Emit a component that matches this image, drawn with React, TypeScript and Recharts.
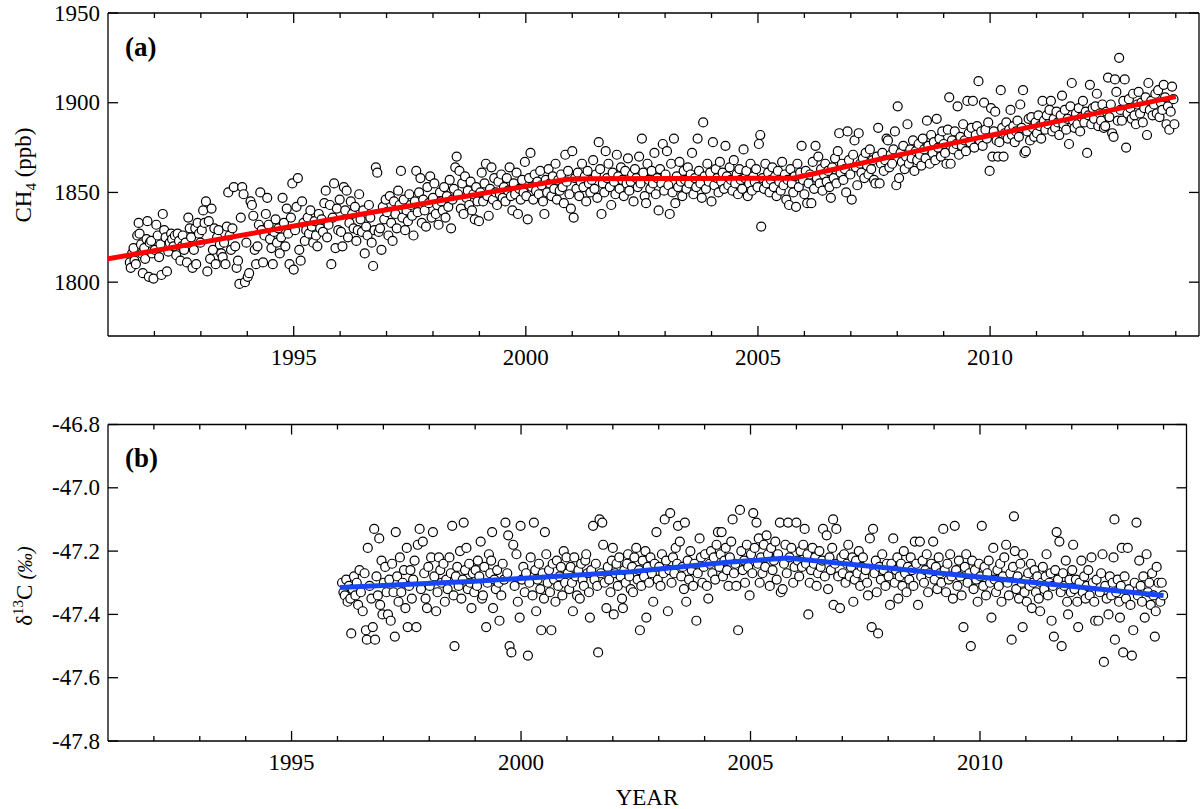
import React from "react";
import { ComposedChart, Scatter, Line, XAxis, YAxis } from "recharts";

const FONT = "'Liberation Serif', 'Times New Roman', Times, serif";

// ---------- tick labels / axis settings ----------
const yearTicks = [1992, 1993, 1994, 1995, 1996, 1997, 1998, 1999, 2000, 2001, 2002, 2003, 2004, 2005, 2006, 2007, 2008, 2009, 2010, 2011, 2012, 2013, 2014];
const ch4Ticks = [1800, 1850, 1900, 1950];
const d13Ticks = [-47.8, -47.6, -47.4, -47.2, -47.0, -46.8];

// ---------- panel (a): CH4 observations [year, ppb] ----------
const ch4Obs: [number, number][] = [
  [1991.47,1811],[1991.49,1808],[1991.52,1816],[1991.55,1819],[1991.57,1812],[1991.60,1810],[1991.63,1826],[1991.66,1833],[1991.68,1827],[1991.71,1821],[1991.73,1816],[1991.75,1805],[1991.78,1819],[1991.80,1813],[1991.83,1824],[1991.85,1834],[1991.88,1803],[1991.90,1822],[1991.93,1823],[1991.95,1816],[1991.98,1802],
  [1992.01,1818],[1992.04,1832],[1992.07,1826],[1992.10,1814],[1992.13,1821],[1992.15,1804],[1992.18,1838],[1992.21,1829],[1992.24,1825],[1992.27,1806],[1992.30,1817],[1992.33,1822],[1992.36,1827],[1992.38,1824],[1992.41,1820],[1992.44,1826],[1992.47,1815],[1992.50,1827],[1992.53,1823],[1992.56,1812],[1992.59,1820],[1992.61,1826],[1992.64,1818],[1992.67,1822],[1992.70,1811],[1992.73,1836],[1992.76,1830],[1992.79,1825],[1992.82,1808],[1992.85,1818],[1992.88,1830],[1992.90,1810],[1992.93,1833],[1992.96,1827],[1992.99,1822],
  [1993.02,1829],[1993.05,1840],[1993.08,1833],[1993.11,1845],[1993.14,1806],[1993.17,1834],[1993.20,1813],[1993.23,1841],[1993.26,1818],[1993.29,1830],[1993.32,1810],[1993.35,1825],[1993.38,1829],[1993.41,1821],[1993.44,1816],[1993.47,1814],[1993.50,1822],[1993.53,1810],[1993.56,1831],[1993.59,1850],[1993.62,1826],[1993.65,1818],[1993.68,1830],[1993.71,1853],[1993.74,1820],[1993.77,1808],[1993.80,1812],[1993.83,1799],[1993.86,1836],[1993.89,1853],[1993.92,1849],[1993.95,1800],[1993.98,1822],
  [1994.01,1803],[1994.04,1805],[1994.07,1845],[1994.10,1843],[1994.13,1837],[1994.16,1818],[1994.19,1810],[1994.22,1820],[1994.25,1832],[1994.28,1850],[1994.31,1829],[1994.34,1811],[1994.37,1826],[1994.40,1838],[1994.43,1847],[1994.46,1832],[1994.49,1824],[1994.52,1819],[1994.55,1810],[1994.58,1828],[1994.61,1835],[1994.64,1822],[1994.67,1830],[1994.70,1816],[1994.73,1825],[1994.76,1847],[1994.79,1833],[1994.82,1820],[1994.85,1841],[1994.88,1827],[1994.91,1810],[1994.94,1836],[1994.97,1855],
  [1995.00,1807],[1995.03,1829],[1995.06,1842],[1995.09,1858],[1995.12,1818],[1995.15,1812],[1995.18,1845],[1995.21,1833],[1995.24,1823],[1995.27,1829],[1995.30,1836],[1995.33,1827],[1995.36,1840],[1995.39,1831],[1995.42,1822],[1995.45,1834],[1995.48,1826],[1995.51,1820],[1995.54,1838],[1995.57,1830],[1995.60,1835],[1995.63,1828],[1995.66,1844],[1995.69,1851],[1995.72,1825],[1995.75,1832],[1995.78,1843],[1995.81,1810],[1995.84,1836],[1995.87,1855],[1995.90,1819],[1995.93,1841],[1995.96,1829],
  [1995.99,1846],[1996.02,1828],[1996.05,1820],[1996.08,1853],[1996.11,1840],[1996.14,1851],[1996.17,1825],[1996.20,1833],[1996.23,1845],[1996.26,1838],[1996.29,1830],[1996.32,1842],[1996.35,1823],[1996.38,1829],[1996.41,1849],[1996.44,1835],[1996.47,1828],[1996.50,1840],[1996.53,1816],[1996.56,1831],[1996.59,1826],[1996.62,1843],[1996.65,1836],[1996.68,1822],[1996.71,1809],[1996.74,1829],[1996.77,1864],[1996.80,1861],[1996.83,1828],[1996.86,1830],[1996.89,1818],[1996.92,1842],[1996.95,1835],[1996.98,1846],
  [1997.01,1839],[1997.04,1826],[1997.07,1848],[1997.10,1833],[1997.13,1823],[1997.16,1845],[1997.19,1838],[1997.22,1830],[1997.25,1851],[1997.28,1843],[1997.31,1862],[1997.34,1836],[1997.37,1846],[1997.40,1829],[1997.43,1840],[1997.46,1834],[1997.49,1849],[1997.52,1843],[1997.55,1837],[1997.58,1826],[1997.61,1845],[1997.64,1862],[1997.67,1839],[1997.70,1850],[1997.73,1858],[1997.76,1833],[1997.79,1846],[1997.82,1840],[1997.85,1831],[1997.88,1853],[1997.91,1844],[1997.94,1859],[1997.97,1836],
  [1998.00,1847],[1998.03,1855],[1998.06,1838],[1998.09,1843],[1998.12,1832],[1998.15,1850],[1998.18,1845],[1998.21,1840],[1998.24,1853],[1998.27,1836],[1998.30,1848],[1998.33,1842],[1998.36,1857],[1998.39,1830],[1998.42,1846],[1998.45,1852],[1998.48,1864],[1998.51,1870],[1998.54,1849],[1998.57,1862],[1998.60,1841],[1998.63,1855],[1998.66,1838],[1998.69,1859],[1998.72,1847],[1998.75,1851],[1998.78,1843],[1998.81,1856],[1998.84,1840],[1998.87,1849],[1998.90,1835],[1998.93,1853],[1998.96,1845],
  [1998.99,1834],[1999.02,1850],[1999.05,1861],[1999.08,1845],[1999.11,1855],[1999.14,1866],[1999.17,1848],[1999.20,1837],[1999.23,1852],[1999.26,1864],[1999.29,1846],[1999.32,1858],[1999.35,1850],[1999.38,1843],[1999.41,1856],[1999.44,1849],[1999.47,1860],[1999.50,1847],[1999.53,1853],[1999.56,1845],[1999.59,1858],[1999.62,1851],[1999.65,1864],[1999.68,1848],[1999.71,1840],[1999.74,1855],[1999.77,1849],[1999.80,1861],[1999.83,1838],[1999.86,1852],[1999.89,1846],[1999.92,1857],[1999.95,1850],
  [1999.98,1867],[2000.01,1848],[2000.04,1835],[2000.07,1858],[2000.10,1872],[2000.13,1853],[2000.16,1846],[2000.19,1860],[2000.22,1851],[2000.25,1856],[2000.28,1849],[2000.31,1862],[2000.34,1854],[2000.37,1845],[2000.40,1838],[2000.43,1857],[2000.46,1850],[2000.49,1863],[2000.52,1855],[2000.55,1848],[2000.58,1859],[2000.61,1852],[2000.64,1866],[2000.67,1846],[2000.70,1857],[2000.73,1851],[2000.76,1860],[2000.79,1853],[2000.82,1844],[2000.85,1871],[2000.88,1856],[2000.91,1862],[2000.94,1849],[2000.97,1841],
  [2001.00,1873],[2001.03,1836],[2001.06,1858],[2001.09,1852],[2001.12,1861],[2001.15,1848],[2001.18,1856],[2001.21,1866],[2001.24,1853],[2001.27,1859],[2001.30,1845],[2001.33,1862],[2001.36,1855],[2001.39,1850],[2001.42,1857],[2001.45,1868],[2001.48,1852],[2001.51,1860],[2001.54,1847],[2001.57,1878],[2001.60,1863],[2001.63,1838],[2001.66,1855],[2001.69,1850],[2001.72,1873],[2001.75,1858],[2001.78,1866],[2001.81,1853],[2001.84,1843],[2001.87,1861],[2001.90,1856],[2001.93,1849],[2001.96,1871],
  [2001.99,1859],[2002.02,1852],[2002.05,1864],[2002.08,1857],[2002.11,1848],[2002.14,1862],[2002.17,1855],[2002.20,1869],[2002.23,1851],[2002.26,1856],[2002.29,1860],[2002.32,1845],[2002.35,1863],[2002.38,1858],[2002.41,1853],[2002.44,1870],[2002.47,1855],[2002.50,1880],[2002.53,1861],[2002.56,1848],[2002.59,1844],[2002.62,1866],[2002.65,1857],[2002.68,1852],[2002.71,1862],[2002.74,1855],[2002.77,1872],[2002.80,1849],[2002.83,1858],[2002.86,1840],[2002.89,1863],[2002.92,1855],[2002.95,1877],[2002.98,1851],
  [2003.01,1860],[2003.04,1873],[2003.07,1854],[2003.10,1838],[2003.13,1866],[2003.16,1850],[2003.19,1880],[2003.22,1844],[2003.25,1859],[2003.28,1853],[2003.31,1867],[2003.34,1856],[2003.37,1848],[2003.40,1862],[2003.43,1857],[2003.46,1852],[2003.49,1864],[2003.52,1855],[2003.55,1860],[2003.58,1872],[2003.61,1849],[2003.64,1858],[2003.67,1853],[2003.70,1880],[2003.73,1862],[2003.76,1855],[2003.79,1847],[2003.82,1889],[2003.85,1859],[2003.88,1852],[2003.91,1866],[2003.94,1856],[2003.97,1861],
  [2004.00,1845],[2004.03,1878],[2004.06,1854],[2004.09,1863],[2004.12,1858],[2004.15,1850],[2004.18,1867],[2004.21,1856],[2004.24,1861],[2004.27,1852],[2004.30,1876],[2004.33,1859],[2004.36,1854],[2004.39,1864],[2004.42,1857],[2004.45,1851],[2004.48,1868],[2004.51,1855],[2004.54,1860],[2004.57,1849],[2004.60,1863],[2004.63,1857],[2004.66,1852],[2004.69,1874],[2004.72,1858],[2004.75,1862],[2004.78,1848],[2004.81,1855],[2004.84,1866],[2004.87,1851],[2004.90,1859],[2004.93,1856],[2004.96,1863],
  [2004.99,1853],[2005.02,1877],[2005.05,1882],[2005.07,1831],[2005.10,1858],[2005.13,1852],[2005.16,1866],[2005.19,1855],[2005.22,1861],[2005.25,1850],[2005.28,1857],[2005.31,1864],[2005.34,1853],[2005.37,1859],[2005.40,1848],[2005.43,1862],[2005.46,1856],[2005.49,1851],[2005.52,1867],[2005.55,1854],[2005.58,1860],[2005.61,1846],[2005.64,1857],[2005.67,1843],[2005.70,1863],[2005.73,1855],[2005.76,1850],[2005.79,1859],[2005.82,1842],[2005.85,1866],[2005.88,1853],[2005.91,1861],[2005.94,1876],[2005.97,1857],
  [2006.00,1849],[2006.03,1862],[2006.06,1844],[2006.09,1855],[2006.12,1860],[2006.15,1844],[2006.18,1867],[2006.21,1852],[2006.24,1876],[2006.27,1858],[2006.30,1870],[2006.33,1855],[2006.36,1863],[2006.39,1851],[2006.42,1860],[2006.45,1866],[2006.48,1856],[2006.51,1862],[2006.54,1853],[2006.57,1847],[2006.60,1864],[2006.63,1858],[2006.66,1869],[2006.69,1855],[2006.72,1873],[2006.75,1883],[2006.78,1861],[2006.81,1866],[2006.84,1857],[2006.87,1863],[2006.90,1850],[2006.93,1884],[2006.96,1868],
  [2006.99,1860],[2007.02,1846],[2007.05,1871],[2007.08,1879],[2007.11,1864],[2007.14,1854],[2007.17,1883],[2007.20,1866],[2007.23,1861],[2007.26,1869],[2007.29,1858],[2007.32,1872],[2007.35,1865],[2007.38,1860],[2007.41,1874],[2007.44,1863],[2007.47,1868],[2007.50,1857],[2007.53,1855],[2007.56,1870],[2007.59,1886],[2007.62,1855],[2007.65,1866],[2007.68,1872],[2007.71,1862],[2007.74,1868],[2007.77,1880],[2007.80,1879],[2007.83,1864],[2007.86,1871],[2007.89,1866],[2007.92,1874],[2007.95,1884],[2007.98,1854],
  [2008.01,1898],[2008.04,1858],[2008.07,1872],[2008.10,1867],[2008.13,1876],[2008.16,1863],[2008.19,1870],[2008.22,1888],[2008.25,1866],[2008.28,1874],[2008.31,1869],[2008.34,1879],[2008.37,1862],[2008.40,1873],[2008.43,1868],[2008.46,1877],[2008.49,1871],[2008.52,1865],[2008.55,1880],[2008.58,1874],[2008.61,1869],[2008.64,1890],[2008.67,1876],[2008.70,1866],[2008.73,1882],[2008.76,1872],[2008.79,1878],[2008.82,1868],[2008.85,1891],[2008.88,1875],[2008.91,1880],[2008.94,1870],[2008.97,1884],
  [2009.00,1877],[2009.03,1872],[2009.06,1866],[2009.09,1885],[2009.12,1903],[2009.15,1866],[2009.18,1879],[2009.21,1874],[2009.24,1884],[2009.27,1877],[2009.30,1898],[2009.33,1871],[2009.36,1881],[2009.39,1876],[2009.42,1888],[2009.45,1879],[2009.48,1873],[2009.51,1901],[2009.54,1883],[2009.57,1878],[2009.60,1886],[2009.63,1901],[2009.66,1875],[2009.69,1882],[2009.72,1887],[2009.75,1912],[2009.78,1879],[2009.81,1884],[2009.84,1876],[2009.87,1900],[2009.90,1885],[2009.93,1880],[2009.96,1889],
  [2009.99,1862],[2010.02,1897],[2010.05,1870],[2010.08,1884],[2010.11,1895],[2010.14,1879],[2010.17,1870],[2010.20,1878],[2010.23,1907],[2010.26,1886],[2010.29,1870],[2010.32,1883],[2010.35,1889],[2010.38,1880],[2010.41,1885],[2010.44,1896],[2010.47,1882],[2010.50,1887],[2010.53,1878],[2010.56,1884],[2010.59,1890],[2010.62,1881],[2010.65,1899],[2010.68,1886],[2010.71,1907],[2010.74,1872],[2010.77,1873],[2010.80,1884],[2010.83,1891],[2010.86,1879],[2010.89,1892],[2010.92,1886],[2010.95,1881],
  [2010.98,1889],[2011.01,1883],[2011.04,1893],[2011.07,1887],[2011.10,1880],[2011.13,1901],[2011.16,1890],[2011.19,1885],[2011.22,1893],[2011.25,1888],[2011.28,1896],[2011.31,1901],[2011.34,1884],[2011.37,1891],[2011.40,1886],[2011.43,1895],[2011.46,1889],[2011.49,1882],[2011.52,1893],[2011.55,1904],[2011.58,1888],[2011.61,1896],[2011.64,1885],[2011.67,1891],[2011.70,1877],[2011.73,1898],[2011.76,1911],[2011.79,1890],[2011.82,1886],[2011.85,1894],[2011.88,1888],[2011.91,1897],[2011.94,1884],[2011.97,1892],
  [2012.00,1901],[2012.03,1889],[2012.06,1895],[2012.09,1872],[2012.12,1893],[2012.15,1910],[2012.18,1888],[2012.21,1897],[2012.24,1891],[2012.27,1898],[2012.30,1905],[2012.33,1887],[2012.36,1894],[2012.39,1890],[2012.42,1899],[2012.45,1886],[2012.48,1887],[2012.51,1895],[2012.54,1914],[2012.57,1892],[2012.60,1899],[2012.63,1883],[2012.66,1881],[2012.69,1913],[2012.72,1906],[2012.75,1890],[2012.78,1925],[2012.81,1896],[2012.84,1890],[2012.87,1901],[2012.90,1913],[2012.93,1875],[2012.96,1894],
  [2012.99,1902],[2013.02,1897],[2013.05,1891],[2013.08,1905],[2013.11,1893],[2013.14,1888],[2013.17,1899],[2013.20,1906],[2013.23,1894],[2013.26,1900],[2013.29,1889],[2013.32,1897],[2013.35,1903],[2013.38,1882],[2013.41,1911],[2013.44,1896],[2013.47,1901],[2013.50,1893],[2013.53,1899],[2013.56,1905],[2013.59,1894],[2013.62,1907],[2013.65,1892],[2013.68,1900],[2013.71,1896],[2013.74,1910],[2013.77,1903],[2013.80,1888],[2013.83,1898],[2013.86,1885],[2013.89,1895],[2013.92,1909],[2013.95,1902],[2013.97,1888],
];

// ---------- panel (a): CH4 fitted trend [year, ppb] ----------
const ch4Fit: [number, number][] = [
  [1991.0,1813.0],[1996.85,1839.7],[2000.5,1855.7],[2000.9,1857.3],[2001.4,1857.6],[2005.75,1857.9],[2006.2,1860.4],[2008.9,1875.8],[2014.0,1903.4],
];

// ---------- panel (b): d13C observations [year, permil] ----------
const d13Obs: [number, number][] = [
  [1996.10,-47.30],[1996.13,-47.33],[1996.16,-47.34],[1996.19,-47.29],[1996.22,-47.36],[1996.25,-47.31],[1996.28,-47.35],[1996.30,-47.46],[1996.33,-47.32],[1996.36,-47.28],[1996.39,-47.34],[1996.42,-47.30],[1996.45,-47.37],[1996.48,-47.26],[1996.51,-47.33],[1996.55,-47.39],[1996.59,-47.27],[1996.62,-47.45],[1996.64,-47.48],[1996.66,-47.19],[1996.70,-47.31],[1996.74,-47.35],[1996.77,-47.44],[1996.80,-47.13],[1996.82,-47.48],[1996.85,-47.28],[1996.88,-47.34],[1996.91,-47.16],[1996.93,-47.37],[1996.96,-47.23],[1996.98,-47.40],
  [1997.01,-47.30],[1997.04,-47.25],[1997.07,-47.33],[1997.10,-47.40],[1997.13,-47.29],[1997.16,-47.42],[1997.19,-47.24],[1997.22,-47.33],[1997.25,-47.47],[1997.27,-47.14],[1997.30,-47.28],[1997.33,-47.36],[1997.36,-47.22],[1997.39,-47.33],[1997.42,-47.30],[1997.45,-47.26],[1997.48,-47.38],[1997.51,-47.19],[1997.53,-47.44],[1997.56,-47.31],[1997.59,-47.26],[1997.62,-47.35],[1997.65,-47.29],[1997.68,-47.23],[1997.72,-47.44],[1997.75,-47.18],[1997.79,-47.13],[1997.82,-47.32],[1997.86,-47.17],[1997.89,-47.27],[1997.92,-47.35],[1997.95,-47.38],[1997.98,-47.25],
  [1998.01,-47.31],[1998.04,-47.22],[1998.08,-47.14],[1998.11,-47.28],[1998.15,-47.39],[1998.18,-47.33],[1998.21,-47.22],[1998.24,-47.26],[1998.27,-47.30],[1998.31,-47.24],[1998.34,-47.36],[1998.37,-47.29],[1998.40,-47.32],[1998.44,-47.22],[1998.47,-47.27],[1998.50,-47.12],[1998.53,-47.34],[1998.55,-47.50],[1998.58,-47.28],[1998.61,-47.25],[1998.64,-47.31],[1998.67,-47.20],[1998.70,-47.35],[1998.73,-47.29],[1998.75,-47.11],[1998.78,-47.26],[1998.81,-47.19],[1998.84,-47.32],[1998.87,-47.24],[1998.89,-47.30],[1998.92,-47.38],[1998.95,-47.27],[1998.98,-47.33],
  [1999.01,-47.26],[1999.04,-47.31],[1999.06,-47.23],[1999.09,-47.28],[1999.12,-47.17],[1999.15,-47.35],[1999.17,-47.34],[1999.20,-47.25],[1999.24,-47.44],[1999.27,-47.30],[1999.30,-47.21],[1999.33,-47.27],[1999.35,-47.23],[1999.37,-47.14],[1999.39,-47.38],[1999.42,-47.29],[1999.45,-47.32],[1999.48,-47.26],[1999.51,-47.30],[1999.53,-47.42],[1999.57,-47.34],[1999.60,-47.24],[1999.63,-47.29],[1999.66,-47.11],[1999.70,-47.27],[1999.72,-47.15],[1999.75,-47.50],[1999.79,-47.52],[1999.83,-47.18],[1999.86,-47.31],[1999.90,-47.21],[1999.93,-47.36],[1999.97,-47.41],[1999.99,-47.12],
  [2000.02,-47.29],[2000.05,-47.25],[2000.08,-47.33],[2000.11,-47.27],[2000.15,-47.53],[2000.18,-47.30],[2000.21,-47.22],[2000.25,-47.34],[2000.28,-47.11],[2000.31,-47.26],[2000.33,-47.39],[2000.36,-47.29],[2000.39,-47.24],[2000.42,-47.32],[2000.44,-47.45],[2000.47,-47.27],[2000.50,-47.35],[2000.52,-47.14],[2000.55,-47.21],[2000.58,-47.30],[2000.61,-47.26],[2000.63,-47.33],[2000.66,-47.45],[2000.69,-47.24],[2000.72,-47.29],[2000.75,-47.36],[2000.78,-47.23],[2000.81,-47.31],[2000.84,-47.28],[2000.87,-47.25],[2000.90,-47.34],[2000.93,-47.20],[2000.96,-47.30],[2000.99,-47.22],
  [2001.02,-47.27],[2001.05,-47.32],[2001.08,-47.25],[2001.11,-47.30],[2001.13,-47.39],[2001.16,-47.22],[2001.19,-47.28],[2001.22,-47.34],[2001.25,-47.26],[2001.28,-47.35],[2001.31,-47.24],[2001.34,-47.29],[2001.37,-47.31],[2001.40,-47.23],[2001.42,-47.21],[2001.45,-47.27],[2001.48,-47.33],[2001.50,-47.41],[2001.53,-47.26],[2001.57,-47.12],[2001.60,-47.29],[2001.63,-47.24],[2001.66,-47.31],[2001.68,-47.52],[2001.71,-47.10],[2001.74,-47.27],[2001.77,-47.11],[2001.79,-47.18],[2001.82,-47.30],[2001.86,-47.38],[2001.89,-47.25],[2001.92,-47.29],[2001.95,-47.33],[2001.98,-47.23],
  [2002.00,-47.19],[2002.02,-47.40],[2002.05,-47.27],[2002.08,-47.24],[2002.11,-47.31],[2002.14,-47.22],[2002.17,-47.28],[2002.20,-47.35],[2002.22,-47.38],[2002.25,-47.26],[2002.28,-47.30],[2002.31,-47.24],[2002.33,-47.21],[2002.36,-47.28],[2002.39,-47.32],[2002.42,-47.25],[2002.44,-47.33],[2002.47,-47.22],[2002.51,-47.19],[2002.54,-47.29],[2002.57,-47.26],[2002.59,-47.45],[2002.62,-47.31],[2002.65,-47.23],[2002.68,-47.28],[2002.71,-47.20],[2002.73,-47.41],[2002.76,-47.25],[2002.79,-47.30],[2002.82,-47.22],[2002.85,-47.27],[2002.88,-47.36],[2002.91,-47.24],[2002.95,-47.14],[2002.98,-47.29],
  [2003.01,-47.25],[2003.04,-47.31],[2003.07,-47.21],[2003.10,-47.27],[2003.13,-47.10],[2003.16,-47.23],[2003.20,-47.39],[2003.23,-47.26],[2003.25,-47.08],[2003.28,-47.30],[2003.31,-47.22],[2003.34,-47.27],[2003.37,-47.19],[2003.40,-47.24],[2003.42,-47.12],[2003.46,-47.17],[2003.49,-47.28],[2003.52,-47.25],[2003.55,-47.32],[2003.57,-47.11],[2003.60,-47.36],[2003.63,-47.23],[2003.66,-47.29],[2003.69,-47.20],[2003.72,-47.26],[2003.75,-47.31],[2003.78,-47.24],[2003.82,-47.42],[2003.85,-47.27],[2003.89,-47.16],[2003.92,-47.22],[2003.95,-47.30],[2003.98,-47.25],
  [2004.01,-47.21],[2004.05,-47.31],[2004.08,-47.35],[2004.11,-47.24],[2004.14,-47.20],[2004.17,-47.27],[2004.20,-47.22],[2004.23,-47.29],[2004.26,-47.18],[2004.29,-47.14],[2004.32,-47.25],[2004.35,-47.21],[2004.37,-47.14],[2004.40,-47.28],[2004.43,-47.23],[2004.46,-47.19],[2004.49,-47.26],[2004.52,-47.31],[2004.55,-47.22],[2004.58,-47.17],[2004.61,-47.10],[2004.64,-47.27],[2004.67,-47.24],[2004.69,-47.31],[2004.73,-47.45],[2004.77,-47.07],[2004.80,-47.20],[2004.83,-47.26],[2004.86,-47.23],[2004.88,-47.30],[2004.92,-47.18],[2004.95,-47.25],[2004.98,-47.34],
  [2005.01,-47.21],[2005.04,-47.27],[2005.06,-47.08],[2005.09,-47.19],[2005.13,-47.11],[2005.16,-47.24],[2005.18,-47.16],[2005.20,-47.30],[2005.23,-47.22],[2005.26,-47.27],[2005.29,-47.18],[2005.32,-47.25],[2005.35,-47.15],[2005.38,-47.21],[2005.42,-47.31],[2005.45,-47.19],[2005.48,-47.26],[2005.51,-47.23],[2005.54,-47.17],[2005.57,-47.29],[2005.60,-47.21],[2005.64,-47.11],[2005.66,-47.33],[2005.70,-47.32],[2005.73,-47.24],[2005.76,-47.18],[2005.79,-47.27],[2005.82,-47.11],[2005.85,-47.22],[2005.89,-47.19],[2005.93,-47.30],[2005.96,-47.25],
  [2006.00,-47.11],[2006.03,-47.23],[2006.06,-47.28],[2006.09,-47.20],[2006.12,-47.25],[2006.15,-47.18],[2006.18,-47.13],[2006.21,-47.24],[2006.24,-47.21],[2006.26,-47.40],[2006.29,-47.30],[2006.32,-47.26],[2006.35,-47.19],[2006.38,-47.24],[2006.41,-47.22],[2006.44,-47.31],[2006.47,-47.27],[2006.50,-47.20],[2006.53,-47.25],[2006.56,-47.23],[2006.58,-47.13],[2006.62,-47.28],[2006.66,-47.15],[2006.69,-47.32],[2006.72,-47.22],[2006.75,-47.26],[2006.78,-47.19],[2006.80,-47.10],[2006.81,-47.37],[2006.84,-47.24],[2006.87,-47.13],[2006.91,-47.28],[2006.95,-47.38],[2006.98,-47.22],
  [2007.01,-47.27],[2007.04,-47.21],[2007.07,-47.30],[2007.10,-47.24],[2007.13,-47.18],[2007.16,-47.28],[2007.19,-47.25],[2007.22,-47.22],[2007.24,-47.36],[2007.27,-47.29],[2007.30,-47.23],[2007.33,-47.27],[2007.36,-47.20],[2007.39,-47.31],[2007.42,-47.25],[2007.45,-47.22],[2007.48,-47.28],[2007.51,-47.26],[2007.54,-47.30],[2007.56,-47.34],[2007.60,-47.16],[2007.64,-47.44],[2007.67,-47.13],[2007.70,-47.27],[2007.73,-47.23],[2007.75,-47.33],[2007.78,-47.46],[2007.81,-47.25],[2007.84,-47.29],[2007.87,-47.21],[2007.90,-47.26],[2007.94,-47.31],[2007.97,-47.24],
  [2008.01,-47.28],[2008.04,-47.37],[2008.07,-47.24],[2008.11,-47.16],[2008.14,-47.30],[2008.17,-47.26],[2008.20,-47.22],[2008.22,-47.35],[2008.25,-47.28],[2008.28,-47.24],[2008.31,-47.31],[2008.34,-47.20],[2008.37,-47.27],[2008.40,-47.33],[2008.43,-47.25],[2008.46,-47.29],[2008.49,-47.22],[2008.52,-47.26],[2008.55,-47.31],[2008.58,-47.17],[2008.61,-47.24],[2008.65,-47.37],[2008.69,-47.17],[2008.72,-47.28],[2008.75,-47.23],[2008.78,-47.30],[2008.81,-47.26],[2008.84,-47.21],[2008.87,-47.33],[2008.90,-47.27],[2008.94,-47.24],[2008.98,-47.17],
  [2009.01,-47.29],[2009.04,-47.25],[2009.07,-47.32],[2009.10,-47.22],[2009.13,-47.27],[2009.16,-47.30],[2009.20,-47.13],[2009.23,-47.26],[2009.26,-47.33],[2009.29,-47.24],[2009.32,-47.29],[2009.35,-47.21],[2009.38,-47.28],[2009.41,-47.35],[2009.45,-47.12],[2009.48,-47.26],[2009.51,-47.31],[2009.54,-47.23],[2009.57,-47.28],[2009.60,-47.34],[2009.64,-47.44],[2009.67,-47.25],[2009.70,-47.21],[2009.73,-47.30],[2009.77,-47.27],[2009.80,-47.50],[2009.83,-47.23],[2009.86,-47.32],[2009.89,-47.26],[2009.92,-47.29],[2009.95,-47.36],[2009.98,-47.24],
  [2010.01,-47.28],[2010.04,-47.12],[2010.07,-47.31],[2010.10,-47.25],[2010.13,-47.34],[2010.16,-47.27],[2010.19,-47.23],[2010.22,-47.30],[2010.25,-47.41],[2010.29,-47.19],[2010.32,-47.29],[2010.35,-47.33],[2010.38,-47.26],[2010.41,-47.31],[2010.44,-47.24],[2010.47,-47.36],[2010.50,-47.28],[2010.53,-47.22],[2010.57,-47.18],[2010.60,-47.30],[2010.63,-47.34],[2010.66,-47.27],[2010.69,-47.48],[2010.72,-47.25],[2010.74,-47.09],[2010.76,-47.20],[2010.79,-47.32],[2010.82,-47.28],[2010.85,-47.35],[2010.88,-47.24],[2010.91,-47.30],[2010.93,-47.44],[2010.94,-47.21],[2010.97,-47.33],
  [2011.00,-47.29],[2011.02,-47.36],[2011.05,-47.27],[2011.08,-47.31],[2011.11,-47.24],[2011.13,-47.38],[2011.16,-47.30],[2011.19,-47.26],[2011.22,-47.33],[2011.25,-47.28],[2011.28,-47.35],[2011.31,-47.39],[2011.34,-47.30],[2011.37,-47.25],[2011.40,-47.32],[2011.43,-47.28],[2011.45,-47.21],[2011.48,-47.34],[2011.51,-47.30],[2011.54,-47.27],[2011.56,-47.42],[2011.59,-47.31],[2011.61,-47.47],[2011.64,-47.26],[2011.67,-47.14],[2011.70,-47.29],[2011.73,-47.17],[2011.76,-47.33],[2011.78,-47.50],[2011.81,-47.27],[2011.84,-47.31],[2011.87,-47.23],[2011.90,-47.36],[2011.92,-47.40],[2011.95,-47.29],[2011.98,-47.33],
  [2012.01,-47.26],[2012.03,-47.18],[2012.06,-47.32],[2012.09,-47.29],[2012.12,-47.36],[2012.14,-47.44],[2012.17,-47.30],[2012.21,-47.23],[2012.24,-47.33],[2012.27,-47.28],[2012.30,-47.35],[2012.33,-47.31],[2012.36,-47.26],[2012.39,-47.34],[2012.43,-47.22],[2012.46,-47.30],[2012.49,-47.36],[2012.51,-47.42],[2012.54,-47.29],[2012.58,-47.42],[2012.61,-47.33],[2012.64,-47.27],[2012.67,-47.21],[2012.70,-47.55],[2012.73,-47.31],[2012.76,-47.35],[2012.80,-47.40],[2012.83,-47.28],[2012.86,-47.34],[2012.89,-47.30],[2012.91,-47.22],[2012.93,-47.10],[2012.94,-47.48],[2012.97,-47.33],
  [2013.00,-47.29],[2013.03,-47.36],[2013.05,-47.41],[2013.07,-47.31],[2013.09,-47.19],[2013.12,-47.52],[2013.15,-47.28],[2013.18,-47.35],[2013.22,-47.19],[2013.25,-47.32],[2013.28,-47.37],[2013.31,-47.53],[2013.34,-47.45],[2013.37,-47.30],[2013.41,-47.11],[2013.44,-47.34],[2013.47,-47.23],[2013.50,-47.31],[2013.53,-47.36],[2013.56,-47.28],[2013.59,-47.41],[2013.63,-47.21],[2013.66,-47.33],[2013.69,-47.30],[2013.72,-47.37],[2013.75,-47.27],[2013.78,-47.34],[2013.81,-47.47],[2013.83,-47.39],[2013.85,-47.25],[2013.89,-47.30],[2013.93,-47.36],[2013.96,-47.30],[2013.99,-47.34],
];

// ---------- panel (b): d13C fitted trend ----------
const d13Fit: [number, number][] = [
  [1996.05,-47.315],[1999.0,-47.295],[2002.4,-47.265],[2004.5,-47.235],[2005.8,-47.222],[2009.1,-47.269],[2014.0,-47.34],
];

const toRows = (arr: [number, number][]) => arr.map(([t, v]) => ({ t, v }));
const ch4Rows = toRows(ch4Obs);
const ch4FitRows = toRows(ch4Fit);
const d13Rows = toRows(d13Obs);
const d13FitRows = toRows(d13Fit);

const AX = "#000";
const AXW = 1.3;
const TXT: React.CSSProperties = { fontFamily: FONT };

const BottomTick = (props: any) => {
  const { x, y, payload } = props;
  const major = payload.value % 5 === 0;
  return (
    <g>
      <line x1={x} x2={x} y1={y} y2={y - (major ? 10 : 5)} stroke={AX} strokeWidth={AXW} />
      {major && (
        <text x={x} y={y + 29} textAnchor="middle" fontSize={23} fontFamily={FONT} style={TXT} fill="#000">
          {payload.value}
        </text>
      )}
    </g>
  );
};

const TopTick = (props: any) => {
  const { x, y, payload } = props;
  const major = payload.value % 5 === 0;
  return <line x1={x} x2={x} y1={y} y2={y + (major ? 10 : 5)} stroke={AX} strokeWidth={AXW} />;
};

const makeLeftTick = (fmt: (v: number) => string) => (props: any) => {
  const { x, y, payload } = props;
  return (
    <g>
      <line x1={x} x2={x + 10} y1={y} y2={y} stroke={AX} strokeWidth={AXW} />
      <text x={x - 8} y={y + 7.5} textAnchor="end" fontSize={23} fontFamily={FONT} style={TXT} fill="#000">
        {fmt(payload.value)}
      </text>
    </g>
  );
};

const RightTick = (props: any) => {
  const { x, y } = props;
  return <line x1={x} x2={x - 10} y1={y} y2={y} stroke={AX} strokeWidth={AXW} />;
};

const Dot = (p: any) => <circle cx={p.cx} cy={p.cy} r={4.5} fill="#fff" stroke="#000" strokeWidth={1.2} />;

const CH4Left = makeLeftTick((v) => String(v));
const D13Left = makeLeftTick((v) => v.toFixed(1));

type PanelProps = {
  top: number;
  height: number;
  marginTop: number;
  marginRight: number;
  bottomH: number;
  yDomain: [number, number];
  yTicks: number[];
  leftTick: any;
  obs: { t: number; v: number }[];
  fit: { t: number; v: number }[];
  fitColor: string;
};

function Panel(p: PanelProps) {
  const axes = (visible: boolean) => [
    <XAxis key="xb" xAxisId="b" dataKey="t" type="number" domain={[1991, 2014.5]} allowDataOverflow ticks={yearTicks} interval={0}
      orientation="bottom" height={p.bottomH} tickSize={0} tickMargin={0} tick={visible ? BottomTick : false} tickLine={false}
      axisLine={visible ? { stroke: AX, strokeWidth: AXW } : false} />,
    <XAxis key="xt" xAxisId="t" dataKey="t" type="number" domain={[1991, 2014.5]} allowDataOverflow ticks={yearTicks} interval={0}
      orientation="top" height={1} tickSize={0} tickMargin={0} tick={visible ? TopTick : false} tickLine={false}
      axisLine={visible ? { stroke: AX, strokeWidth: AXW } : false} />,
    <YAxis key="yl" yAxisId="l" dataKey="v" type="number" domain={p.yDomain} allowDataOverflow ticks={p.yTicks} interval={0}
      orientation="left" width={108} tickSize={0} tickMargin={0} tick={visible ? p.leftTick : false} tickLine={false}
      axisLine={visible ? { stroke: AX, strokeWidth: AXW } : false} />,
    <YAxis key="yr" yAxisId="r" type="number" domain={p.yDomain} allowDataOverflow ticks={p.yTicks} interval={0}
      orientation="right" width={1} tickSize={0} tickMargin={0} tick={visible ? RightTick : false} tickLine={false}
      axisLine={visible ? { stroke: AX, strokeWidth: AXW } : false} />,
  ];
  const margin = { top: p.marginTop, right: p.marginRight, bottom: 0, left: 0 };
  return (
    <>
      <div style={{ position: "absolute", left: 0, top: p.top }}>
        <ComposedChart width={1200} height={p.height} margin={margin}>
          {axes(true)}
          <Scatter data={p.obs} xAxisId="b" yAxisId="l" dataKey="v" shape={Dot} isAnimationActive={false} />
        </ComposedChart>
      </div>
      <div style={{ position: "absolute", left: 0, top: p.top }}>
        <ComposedChart width={1200} height={p.height} margin={margin}>
          {axes(false)}
          <Line data={p.fit} xAxisId="b" yAxisId="l" dataKey="v" type="linear" stroke={p.fitColor} strokeWidth={5}
            dot={false} activeDot={false} isAnimationActive={false} />
        </ComposedChart>
      </div>
    </>
  );
}

export default function App() {
  return (
    <div style={{ position: "absolute", left: 0, top: 0, width: 1200, height: 809, background: "#fff", overflow: "hidden", fontFamily: FONT }}>
      <Panel top={0} height={400} marginTop={12} marginRight={0} bottomH={64} yDomain={[1770, 1950]} yTicks={ch4Ticks}
        leftTick={CH4Left} obs={ch4Rows} fit={ch4FitRows} fitColor="#ff0000" />
      <Panel top={400} height={409} marginTop={23.5} marginRight={12.5} bottomH={68} yDomain={[-47.8, -46.8]} yTicks={d13Ticks}
        leftTick={D13Left} obs={d13Rows} fit={d13FitRows} fitColor="#1746f2" />
      <svg width={1200} height={809} style={{ position: "absolute", left: 0, top: 0, pointerEvents: "none", fontFamily: FONT }}>
        <text x={125} y={56} fontSize={27} fontWeight="bold" fontFamily={FONT} fill="#000">(a)</text>
        <text x={125} y={467} fontSize={27} fontWeight="bold" fontFamily={FONT} fill="#000">(b)</text>
        <text transform="translate(31,175) rotate(-90)" textAnchor="middle" fontSize={23} fontFamily={FONT} fill="#000">
          CH<tspan fontSize={15} dy={5}>4</tspan><tspan dy={-5}> (ppb)</tspan>
        </text>
        <text transform="translate(32,586) rotate(-90)" textAnchor="middle" fontSize={23} fontFamily={FONT} fill="#000">
          δ<tspan fontSize={15} dy={-9}>13</tspan><tspan dy={9}>C</tspan><tspan fontSize={20} fontStyle="italic"> (‰)</tspan>
        </text>
        <text x={647} y={805} textAnchor="middle" fontSize={23} fontFamily={FONT} fill="#000">YEAR</text>
      </svg>
    </div>
  );
}
